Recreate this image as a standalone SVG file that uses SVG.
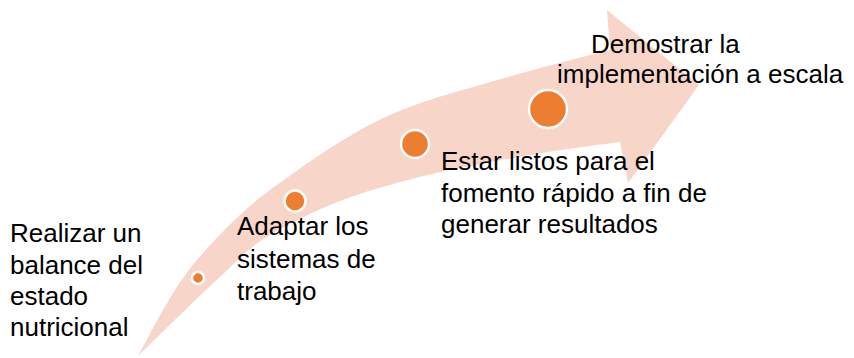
<svg xmlns="http://www.w3.org/2000/svg" width="854" height="358" viewBox="0 0 854 358">
<style>
.lbl{font-family:"Liberation Sans",Arial,sans-serif;font-size:26px;fill:#000000}
.dot{fill:#ED7D31;stroke:#FFFFFF;stroke-width:2.5}
.arrow{fill:#F8D5C9;stroke:none}
</style>
<rect width="854" height="358" fill="#FFFFFF"/>
<g id="arrow">
<path class="arrow" d="M138,356 C145.5,343 166,301.5 183,278 C200,254.5 221.3,232.7 240,215 C258.7,197.3 275,186.2 295,172 C315,157.8 340,141.2 360,130 C380,118.8 395,112.5 415,105 C435,97.5 457.8,91.5 480,85 C502.2,78.5 526.3,71.8 548,66 C569.7,60.2 599.7,52.7 610,50 L607,10 L699,85 L628,183 L620,142 C608,143.7 573,148 548,152 C523,156 494.7,161 470,166 C445.3,171 423.3,175.5 400,182 C376.7,188.5 353,195.3 330,205 C307,214.7 280.3,228 262,240 C243.7,252 233.7,264.5 220,277 C206.3,289.5 193.7,301.8 180,315 C166.3,328.2 145,349.2 138,356 Z"/>
</g>
<g id="step1">
<circle class="dot" cx="198" cy="278" r="6"/>
<text class="lbl" x="10" y="242">Realizar un</text>
<text class="lbl" x="10" y="274">balance del</text>
<text class="lbl" x="10" y="305">estado</text>
<text class="lbl" x="10" y="336">nutricional</text>
</g>
<g id="step2">
<circle class="dot" cx="295" cy="201" r="10.5"/>
<text class="lbl" x="237" y="235">Adaptar los</text>
<text class="lbl" x="237" y="267.5">sistemas de</text>
<text class="lbl" x="237" y="300">trabajo</text>
</g>
<g id="step3">
<circle class="dot" cx="415" cy="144" r="14"/>
<text class="lbl" x="441" y="170">Estar listos para el</text>
<text class="lbl" x="441" y="202">fomento rápido a fin de</text>
<text class="lbl" x="441" y="233">generar resultados</text>
</g>
<g id="step4">
<circle class="dot" cx="548" cy="109" r="19"/>
<text class="lbl" x="591" y="53">Demostrar la</text>
<text class="lbl" x="557" y="83">implementación a escala</text>
</g>
<g id="connectors"/>
</svg>
